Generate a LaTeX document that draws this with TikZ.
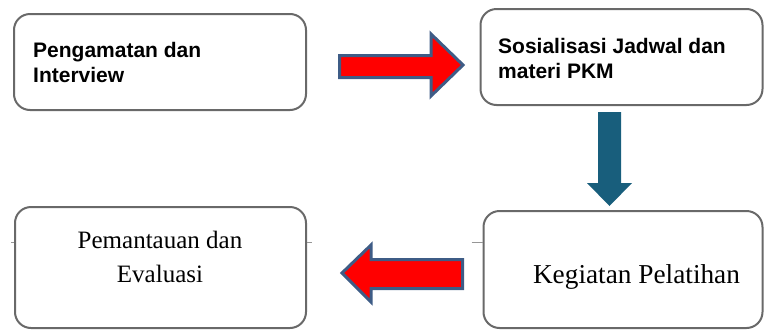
\documentclass[tikz,border=0pt]{standalone}
\usepackage{fontspec}
\setmainfont{Liberation Serif}
\newfontfamily\arialfont{Liberation Sans}
\definecolor{boxline}{RGB}{105,105,105}
\definecolor{arrowred}{RGB}{255,0,0}
\definecolor{arrowedge}{RGB}{62,92,134}
\definecolor{teal}{RGB}{24,94,124}
\tikzset{
  stepbox/.style={draw=boxline, line width=2pt, rounded corners=16pt, fill=white, inner sep=0pt},
  sanstext/.style={font=\arialfont\bfseries\fontsize{21}{25}\selectfont, anchor=base west, inner sep=0pt},
  seriftext/.style={font=\fontsize{25}{30}\selectfont, anchor=base, inner sep=0pt},
  redarrow/.style={fill=arrowred, draw=arrowedge, line width=3pt, line join=miter},
  tealarrow/.style={fill=teal, draw=none},
  stub/.style={draw=boxline!70, line width=1pt}
}
\begin{document}
\begin{tikzpicture}[x=1pt,y=-1pt]
\useasboundingbox (0,0) rectangle (764,330);
% boxes
\node[stepbox, minimum width=292pt, minimum height=96pt] (b1) at (160,62) {};
\node[stepbox, minimum width=282pt, minimum height=96pt] (b2) at (621.5,57) {};
\node[stepbox, minimum width=279pt, minimum height=117pt] (b3) at (623,269.5) {};
\node[stepbox, minimum width=291pt, minimum height=121pt] (b4) at (160.5,267.5) {};
% texts
\node[sanstext] (t1a) at (33,57) {Pengamatan dan};
\node[sanstext] (t1b) at (33,82) {Interview};
\node[sanstext] (t2a) at (498,53) {Sosialisasi Jadwal dan};
\node[sanstext] (t2b) at (498,78) {materi PKM};
\node[seriftext, font=\fontsize{27.3}{32}\selectfont] (t3) at (636.5,283) {Kegiatan Pelatihan};
\node[seriftext] (t4a) at (160,248) {Pemantauan dan};
\node[seriftext] (t4b) at (160,282) {Evaluasi};
% stubs
\coordinate (s3) at ([xshift=-11pt]b3.west |- 0,242);
\draw[stub] (s3) -- (b3.west |- s3);
\coordinate (s4r) at (312,242);
\draw[stub] (b4.east |- s4r) -- (s4r);
\coordinate (s4l) at (11,242);
\draw[stub] (s4l) -- (b4.west |- s4l);
% block arrows
\draw[redarrow] (339.5,55.5) -- (431,55.5) -- (431,34) -- (463,65) -- (431,96) -- (431,77.5) -- (339.5,77.5) -- cycle;
\draw[redarrow] (342,273) -- (371,245) -- (371,259.5) -- (462.5,259.5) -- (462.5,288.5) -- (371,288.5) -- (371,302) -- cycle;
\fill[tealarrow] (598,112) -- (621,112) -- (621,183) -- (632,183) -- (609.5,206) -- (587,183) -- (598,183) -- cycle;
\end{tikzpicture}
\end{document}
